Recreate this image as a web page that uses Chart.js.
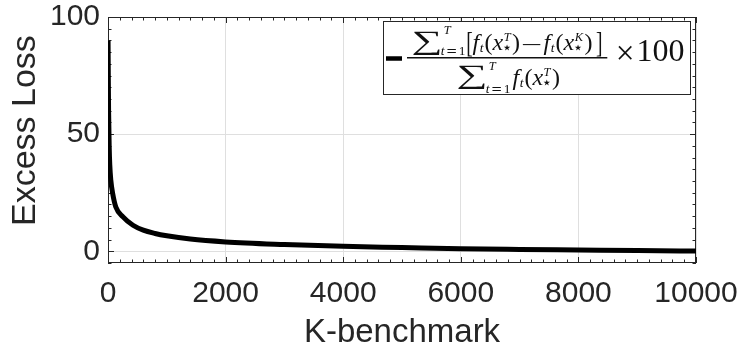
<!DOCTYPE html>
<html><head><meta charset="utf-8">
<script src="https://cdn.jsdelivr.net/npm/chart.js@4.4.1/dist/chart.umd.min.js"></script>
<style>html,body{margin:0;padding:0;background:#fff}#wrap{width:742px;height:356px}</style>
</head><body><div id="wrap"><canvas id="c" width="742" height="356"></canvas></div>
<script>
// ---- data ----
const kBenchmark = [1, 5, 10, 20, 30, 48, 80, 133, 255, 425, 600, 800, 1000, 1400, 2000, 3000, 4000, 5000, 6000, 7000, 8000, 9000, 10000];
const excessLoss = [90, 75, 60, 45, 37, 30.3, 24.6, 18.9, 14.7, 11.1, 9.0, 7.6, 6.6, 5.2, 4.0, 2.9, 2.1, 1.6, 1.1, 0.8, 0.55, 0.3, 0.1];
const xTicks = [0, 2000, 4000, 6000, 8000, 10000];
const yTicks = [0, 50, 100];
const xLabel = 'K-benchmark';
const yLabel = 'Excess Loss';

const SANS = "'Liberation Sans', Arial, Helvetica, sans-serif";
const SERIF = "'Liberation Serif','DejaVu Serif',serif";
const DJS = "'DejaVu Serif',serif";
const STAR = "'DejaVu Sans',sans-serif";
const AX = '#262626';

// ---- math text helpers for the legend label ----
function fnt(s, it, fam){ return (it ? 'italic ' : '') + s + 'px ' + (fam || SERIF); }
function tokW(ctx, t){
  if (t.stack) return Math.max(...t.stack.map(u => tokW(ctx, u))) + (t.gap || 0);
  if (t.run) return t.run.reduce((a, u) => a + tokW(ctx, u), 0) + (t.gap || 0);
  if (t.fit) return t.w + (t.dx || 0) + (t.gap || 0);
  ctx.font = fnt(t.s, t.it, t.fam);
  return ctx.measureText(t.t).width + (t.gap || 0);
}
function drawTok(ctx, t, x, B){
  if (t.stack){ for (const u of t.stack) drawTok(ctx, u, x, B); return tokW(ctx, t); }
  if (t.run){ let xx = x; for (const u of t.run) xx += drawTok(ctx, u, xx, B); return tokW(ctx, t); }
  if (t.fit){
    ctx.save();
    ctx.font = fnt(100, false, t.fam);
    ctx.textAlign = 'left'; ctx.textBaseline = 'alphabetic';
    const m = ctx.measureText(t.fit);
    const iw = m.actualBoundingBoxLeft + m.actualBoundingBoxRight;
    const ih = m.actualBoundingBoxAscent + m.actualBoundingBoxDescent;
    ctx.translate(x + (t.dx || 0), B + (t.top || 0));
    ctx.scale(t.w / iw, t.h / ih);
    ctx.fillText(t.fit, m.actualBoundingBoxLeft, m.actualBoundingBoxAscent);
    ctx.restore();
    return tokW(ctx, t);
  }
  ctx.font = fnt(t.s, t.it, t.fam);
  ctx.textAlign = 'left'; ctx.textBaseline = 'alphabetic';
  ctx.fillText(t.t, x + (t.dx || 0), B + (t.dy || 0));
  return ctx.measureText(t.t).width + (t.gap || 0);
}
function drawRun(ctx, toks, x, B){ let xx = x; for (const t of toks) xx += drawTok(ctx, t, xx, B); return xx - x; }
function runW(ctx, toks){ return toks.reduce((a, t) => a + tokW(ctx, t), 0); }

const F = 24, S = 13.5;
const lim = (supDy, subDy) => ({stack: [
  {t: 'T', s: 12.5, it: true, dy: supDy, dx: 3},
  {run: [{t: 't', s: S, it: true, dy: subDy, gap: 1.5}, {t: '=', s: S, dy: subDy, gap: 1.5, fam: DJS}, {t: '1', s: S, dy: subDy}]}
], gap: 2});
const ftx = (sup) => [
  {t: 'f', s: F, it: true, gap: 0.5},
  {t: 't', s: S, it: true, dy: 2, gap: 1},
  {t: '(', s: F},
  {t: 'x', s: F, it: true, gap: 0.5},
  {stack: [{t: sup, s: 12.5, it: true, dy: -9.5}, {fit: '\u22C6', fam: STAR, w: 6.6, h: 6.4, top: -5.3}], gap: 1.5},
  {t: ')', s: F}
];
const numer = [
  {fit: '\u2211', w: 26.5, h: 23.5, top: -18.7, gap: 1},
  lim(-16, 5),
  {fit: '[', w: 4.5, h: 25, top: -19, gap: 0.5},
  ...ftx('T'),
  {fit: '\u2212', w: 18, h: 1.3, top: -6, dx: 2.5, gap: 3},
  ...ftx('K'),
  {fit: ']', w: 4.5, h: 25, top: -19, dx: 4}
];
const denom = [
  {fit: '\u2211', w: 26.5, h: 23.5, top: -19.5, gap: 1},
  lim(-15.5, 7.5),
  ...ftx('T')
];

const legendPlugin = {
  id: 'mathLegend',
  afterDraw(chart){
    const ctx = chart.ctx, ca = chart.chartArea;
    const ox = ca.right - 312.5, oy = ca.top + 4.5;
    ctx.save();
    ctx.fillStyle = '#fff';
    ctx.fillRect(ox, oy, 307, 73);
    ctx.strokeStyle = AX; ctx.lineWidth = 1;
    ctx.strokeRect(ox, oy, 307, 73);
    // line sample
    ctx.strokeStyle = '#000'; ctx.lineWidth = 4.5; ctx.lineCap = 'butt';
    ctx.beginPath(); ctx.moveTo(ox + 2.5, oy + 37); ctx.lineTo(ox + 18.5, oy + 37); ctx.stroke();
    // fraction
    ctx.fillStyle = '#111';
    const bx0 = ox + 23.5, bx1 = ox + 223.8, bc = (bx0 + bx1) / 2;
    ctx.fillRect(bx0, oy + 35.5, bx1 - bx0, 1.5);
    const nw = runW(ctx, numer), dw = runW(ctx, denom);
    drawRun(ctx, numer, bc - nw / 2, oy + 28.5);
    drawRun(ctx, denom, bc - dw / 2 + 2, oy + 63.5);
    drawTok(ctx, {fit: '\u00D7', w: 14, h: 14, top: 0}, ox + 234.5, oy + 24.5);
    ctx.font = fnt(32, false); ctx.textAlign = 'left'; ctx.textBaseline = 'alphabetic';
    ctx.fillText('100', ox + 253, oy + 39.8);
    ctx.restore();
  }
};

const boxPlugin = {
  id: 'matlabBox',
  beforeDatasetsDraw(chart){
    const ctx = chart.ctx, ca = chart.chartArea;
    const xs = chart.scales.x, ys = chart.scales.y;
    ctx.save();
    ctx.strokeStyle = AX; ctx.lineWidth = 1;
    ctx.strokeRect(Math.round(ca.left) + 0.5, Math.round(ca.top) + 0.5, Math.round(ca.right - ca.left) - 1, Math.round(ca.bottom - ca.top) - 1);
    ctx.beginPath();
    for (let v = 0; v <= 10000; v += 200){
      const p = Math.round(xs.getPixelForValue(v)) + 0.5;
      const L = (v % 2000 === 0) ? 6 : 3.5;
      ctx.moveTo(p, ca.bottom); ctx.lineTo(p, ca.bottom - L);
      ctx.moveTo(p, ca.top); ctx.lineTo(p, ca.top + L);
    }
    for (let v = -5; v <= 100; v += 5){
      const p = Math.round(ys.getPixelForValue(v)) + 0.5;
      const L = (v % 50 === 0) ? 6 : 3.5;
      ctx.moveTo(ca.left, p); ctx.lineTo(ca.left + L, p);
      ctx.moveTo(ca.right, p); ctx.lineTo(ca.right - L, p);
    }
    ctx.stroke();
    ctx.restore();
  }
};

new Chart(document.getElementById('c'), {
  type: 'line',
  data: {
    datasets: [{
      data: kBenchmark.map((k, i) => ({x: k, y: excessLoss[i]})),
      borderColor: '#000',
      borderWidth: 5,
      pointRadius: 0,
      fill: false,
      cubicInterpolationMode: 'monotone'
    }]
  },
  options: {
    responsive: false,
    animation: false,
    events: [],
    layout: {padding: {top: 17, right: 46, left: 0, bottom: 0}},
    plugins: {legend: {display: false}, tooltip: {enabled: false}},
    scales: {
      x: {
        type: 'linear', min: 0, max: 10000,
        afterBuildTicks: s => { s.ticks = xTicks.map(v => ({value: v})); },
        afterFit: s => { s.height = 93; s.paddingLeft = 0; s.paddingRight = 0; },
        ticks: {color: AX, font: {family: SANS, size: 30}, padding: 13, maxRotation: 0, autoSkip: false, callback: v => String(v)},
        grid: {color: '#dfdfdf', drawTicks: false, lineWidth: 1},
        border: {display: false},
        title: {display: true, text: xLabel, color: AX, font: {family: SANS, size: 33}, padding: {top: 0, bottom: 3}}
      },
      y: {
        type: 'linear', min: -5, max: 100,
        afterBuildTicks: s => { s.ticks = yTicks.map(v => ({value: v})); },
        afterFit: s => { s.width = 108; s.paddingTop = 0; s.paddingBottom = 0; },
        ticks: {color: AX, font: {family: SANS, size: 30}, padding: 8, autoSkip: false, callback: v => String(v)},
        grid: {color: '#dfdfdf', drawTicks: false, lineWidth: 1},
        border: {display: false},
        title: {display: true, text: '  ' + yLabel, color: AX, font: {family: SANS, size: 34}, padding: {top: 5, bottom: 0}}
      }
    }
  },
  plugins: [boxPlugin, legendPlugin]
});
</script>
</body></html>
